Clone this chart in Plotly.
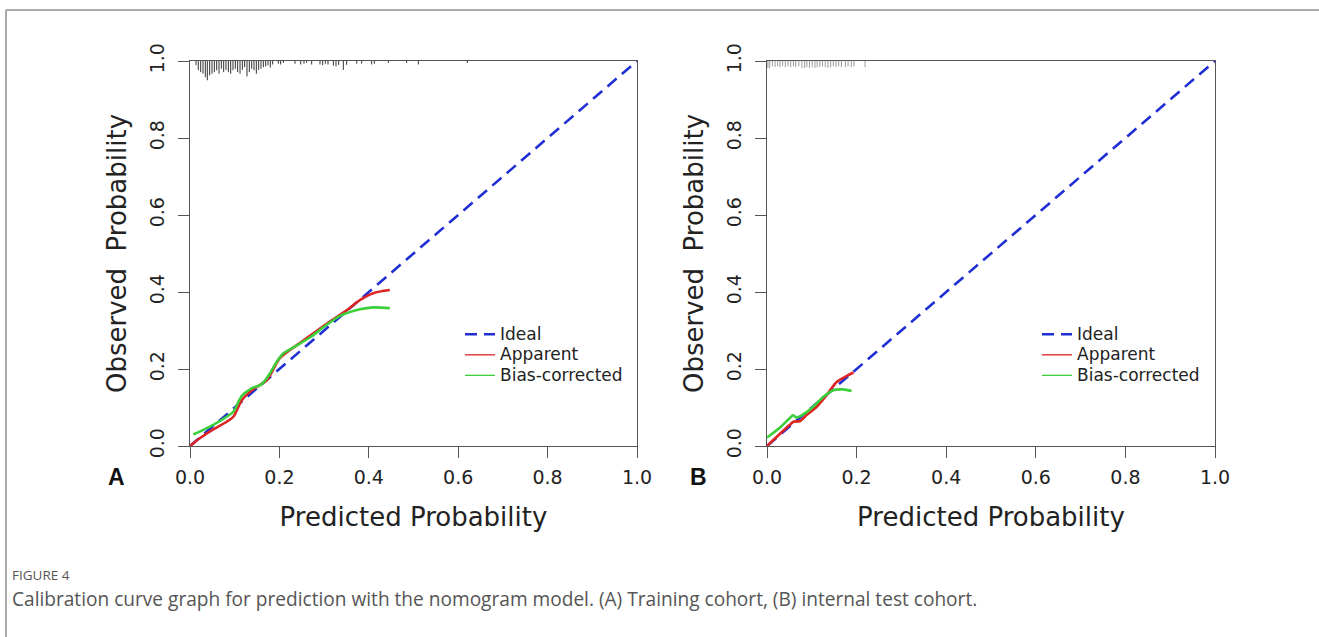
import plotly.graph_objects as go

W, H = 1319, 637

# ---------------- data ----------------
ticks = [0.0, 0.2, 0.4, 0.6, 0.8, 1.0]
tick_labels = ["0.0", "0.2", "0.4", "0.6", "0.8", "1.0"]

ideal_x = [0.0, 1.0]
ideal_y = [0.0, 1.0]

# Panel A (training cohort)
apparent_A_x = [0.0, 0.022, 0.052, 0.082, 0.097, 0.116, 0.142, 0.172, 0.201, 0.239, 0.276, 0.313, 0.351, 0.38, 0.41, 0.447]
apparent_A_y = [0.0, 0.020, 0.043, 0.063, 0.076, 0.119, 0.148, 0.171, 0.228, 0.262, 0.293, 0.323, 0.353, 0.379, 0.397, 0.405]
bias_A_x = [0.0075, 0.030, 0.052, 0.082, 0.097, 0.116, 0.142, 0.160, 0.179, 0.194, 0.209, 0.231, 0.27, 0.298, 0.336, 0.38, 0.41, 0.447]
bias_A_y = [0.030, 0.042, 0.055, 0.076, 0.089, 0.130, 0.152, 0.160, 0.189, 0.219, 0.241, 0.256, 0.283, 0.308, 0.338, 0.355, 0.360, 0.358]

# Panel B (internal test cohort)
apparent_B_x = [0.0, 0.022, 0.051, 0.059, 0.074, 0.089, 0.111, 0.133, 0.156, 0.178, 0.193]
apparent_B_y = [0.0, 0.024, 0.055, 0.063, 0.065, 0.081, 0.102, 0.132, 0.167, 0.182, 0.191]
bias_B_x = [0.0, 0.029, 0.052, 0.058, 0.066, 0.081, 0.103, 0.126, 0.148, 0.170, 0.189]
bias_B_y = [0.022, 0.048, 0.074, 0.080, 0.074, 0.082, 0.102, 0.128, 0.145, 0.147, 0.143]

# rug of predicted probabilities (positions, segment lengths)
rug_A_x = [0.0134, 0.0186, 0.0239, 0.0291, 0.0343, 0.0388, 0.044, 0.0492, 0.0544, 0.0597,
           0.0649, 0.0701, 0.0753, 0.0805, 0.0858, 0.091, 0.0962, 0.1014, 0.1066, 0.1119,
           0.1171, 0.1223, 0.1275, 0.1327, 0.138, 0.1432, 0.1484, 0.1536, 0.1588, 0.1641,
           0.1693, 0.1745, 0.1797, 0.1849, 0.1976, 0.2028, 0.2088, 0.2349, 0.2476, 0.255,
           0.261, 0.2722, 0.2908, 0.2968, 0.3028, 0.3087, 0.3207, 0.3266, 0.3326, 0.343,
           0.3505, 0.3729, 0.384, 0.4064, 0.4124, 0.4437, 0.4847, 0.5108, 0.6204]
rug_A_h = [0.011, 0.024, 0.029, 0.033, 0.042, 0.050, 0.037, 0.033, 0.029, 0.024,
           0.033, 0.020, 0.029, 0.023, 0.029, 0.033, 0.024, 0.020, 0.029, 0.033,
           0.023, 0.016, 0.040, 0.029, 0.020, 0.024, 0.033, 0.023, 0.020, 0.016,
           0.014, 0.011, 0.017, 0.009, 0.007, 0.009, 0.005, 0.007, 0.009, 0.007,
           0.005, 0.009, 0.009, 0.011, 0.007, 0.009, 0.012, 0.014, 0.010, 0.023,
           0.010, 0.007, 0.007, 0.009, 0.007, 0.005, 0.005, 0.009, 0.005]
rug_B_x = [0.002, 0.006, 0.012, 0.018, 0.024, 0.029, 0.035, 0.041, 0.047, 0.053,
           0.059, 0.064, 0.071, 0.078, 0.084, 0.089, 0.095, 0.101, 0.107, 0.112,
           0.118, 0.124, 0.130, 0.136, 0.142, 0.148, 0.154, 0.160, 0.166, 0.175,
           0.181, 0.188, 0.194, 0.219]
rug_B_h = [0.018, 0.018, 0.014, 0.016, 0.014, 0.016, 0.014, 0.016, 0.014, 0.016,
           0.014, 0.016, 0.014, 0.018, 0.018, 0.016, 0.018, 0.016, 0.018, 0.016,
           0.016, 0.014, 0.016, 0.018, 0.016, 0.014, 0.016, 0.014, 0.016, 0.016,
           0.014, 0.016, 0.014, 0.016]

legend_names = ["Ideal", "Apparent", "Bias-corrected"]

# ---------------- style ----------------
BLUE = "#1f2fd4"
RED = "#dd2424"
GREEN = "#3ccf3c"
AXC = "#555555"
FONT = "DejaVu Sans"


def rug_xy(xs, hs):
    rx, ry = [], []
    for x, h in zip(xs, hs):
        rx += [x, x, None]
        ry += [1.0, 1.0 - h, None]
    return rx, ry


def leg_label(s):
    return '<span style="font-size:17px">%s</span>' % s


fig = go.Figure()

panels = [
    ("x", "y", "legend", rug_A_x, rug_A_h, "#333333", apparent_A_x, apparent_A_y, bias_A_x, bias_A_y),
    ("x2", "y2", "legend2", rug_B_x, rug_B_h, "#9a9a9a", apparent_B_x, apparent_B_y, bias_B_x, bias_B_y),
]
for xa, ya, lg, rx_, rh_, rc, ax_, ay_, bx_, by_ in panels:
    rx, ry = rug_xy(rx_, rh_)
    fig.add_trace(go.Scatter(x=rx, y=ry, mode="lines", line=dict(color=rc, width=1),
                             xaxis=xa, yaxis=ya, showlegend=False, hoverinfo="skip"))
    fig.add_trace(go.Scatter(x=ideal_x, y=ideal_y, mode="lines", name=leg_label(legend_names[0]),
                             line=dict(color=BLUE, width=2.6, dash="12px,7px"),
                             xaxis=xa, yaxis=ya, legend=lg))
    fig.add_trace(go.Scatter(x=ax_, y=ay_, mode="lines", line=dict(color=RED, width=2.6, shape="spline", smoothing=0.8),
                             xaxis=xa, yaxis=ya, showlegend=False))
    fig.add_trace(go.Scatter(x=bx_, y=by_, mode="lines", line=dict(color=GREEN, width=2.6, shape="spline", smoothing=0.8),
                             xaxis=xa, yaxis=ya, showlegend=False))
    # legend entries with thin lines
    fig.add_trace(go.Scatter(x=[None], y=[None], mode="lines", name=leg_label(legend_names[1]),
                             line=dict(color=RED, width=1.3), xaxis=xa, yaxis=ya, legend=lg))
    fig.add_trace(go.Scatter(x=[None], y=[None], mode="lines", name=leg_label(legend_names[2]),
                             line=dict(color=GREEN, width=1.3), xaxis=xa, yaxis=ya, legend=lg))


def px_x(p):
    return p / W


def px_y(p):
    return 1 - p / H


y_dom = [px_y(446), px_y(61)]
xA = [px_x(190), px_x(637)]
xB = [px_x(767), px_x(1215)]

common_x = dict(range=[0, 1], tickvals=ticks, ticktext=tick_labels, showline=True, mirror=True,
                linecolor=AXC, linewidth=1.4, ticks="outside", ticklen=11, tickwidth=1.4,
                tickcolor=AXC, showgrid=False, zeroline=False, fixedrange=True, ticklabelstandoff=3,
                tickfont=dict(family=FONT, size=19, color="#222"), automargin=False,
                title=dict(text="Predicted Probability", font=dict(family=FONT, size=26, color="#222"), standoff=20))
common_y = dict(range=[0, 1], tickvals=ticks, ticktext=tick_labels, showline=True, mirror=True,
                linecolor=AXC, linewidth=1.4, ticks="outside", ticklen=11, tickwidth=1.4,
                tickcolor=AXC, showgrid=False, zeroline=False, fixedrange=True, tickangle=-90,
                ticklabelstandoff=6,
                tickfont=dict(family=FONT, size=19, color="#222"), automargin=False,
                title=dict(text="Observed\u00a0 Probability", font=dict(family=FONT, size=26, color="#222"), standoff=12))

leg_common = dict(xanchor="left", yanchor="top", bgcolor="rgba(0,0,0,0)",
                  font=dict(family=FONT, size=13.5, color="#222"), itemwidth=30, tracegroupgap=0)

fig.update_layout(
    width=W, height=H,
    margin=dict(l=0, r=0, t=0, b=0),
    paper_bgcolor="white", plot_bgcolor="white",
    xaxis=dict(domain=xA, anchor="y", **common_x),
    yaxis=dict(domain=y_dom, anchor="x", **common_y),
    xaxis2=dict(domain=xB, anchor="y2", **common_x),
    yaxis2=dict(domain=y_dom, anchor="x2", **common_y),
    legend=dict(x=px_x(460), y=px_y(319), **leg_common),
    legend2=dict(x=px_x(1037), y=px_y(319), **leg_common),
    showlegend=True,
)

# panel letters
for letter, xp in [("A", 116), ("B", 698)]:
    fig.add_annotation(text="<b>%s</b>" % letter, x=px_x(xp), y=px_y(477), xref="paper", yref="paper",
                       showarrow=False, font=dict(family="Liberation Sans", size=23, color="#111"),
                       xanchor="center", yanchor="middle")

# caption
fig.add_annotation(text="FIGURE 4", x=px_x(10), y=px_y(575), xref="paper", yref="paper", showarrow=False,
                   xanchor="left", yanchor="middle", font=dict(family="Open Sans", size=13.5, color="#555"))
fig.add_annotation(text="Calibration curve graph for prediction with the nomogram model. (A) Training cohort, (B) internal test cohort.",
                   x=px_x(10), y=px_y(599), xref="paper", yref="paper", showarrow=False,
                   xanchor="left", yanchor="middle", font=dict(family="Open Sans", size=19.1, color="#555"))

# page frame (top & left border)
fig.add_shape(type="line", xref="paper", yref="paper", x0=px_x(6), x1=1, y0=px_y(10), y1=px_y(10),
              line=dict(color="#aaaaaa", width=2))
fig.add_shape(type="line", xref="paper", yref="paper", x0=px_x(6), x1=px_x(6), y0=px_y(10), y1=0,
              line=dict(color="#aaaaaa", width=2))

fig.write_html("out.html")
